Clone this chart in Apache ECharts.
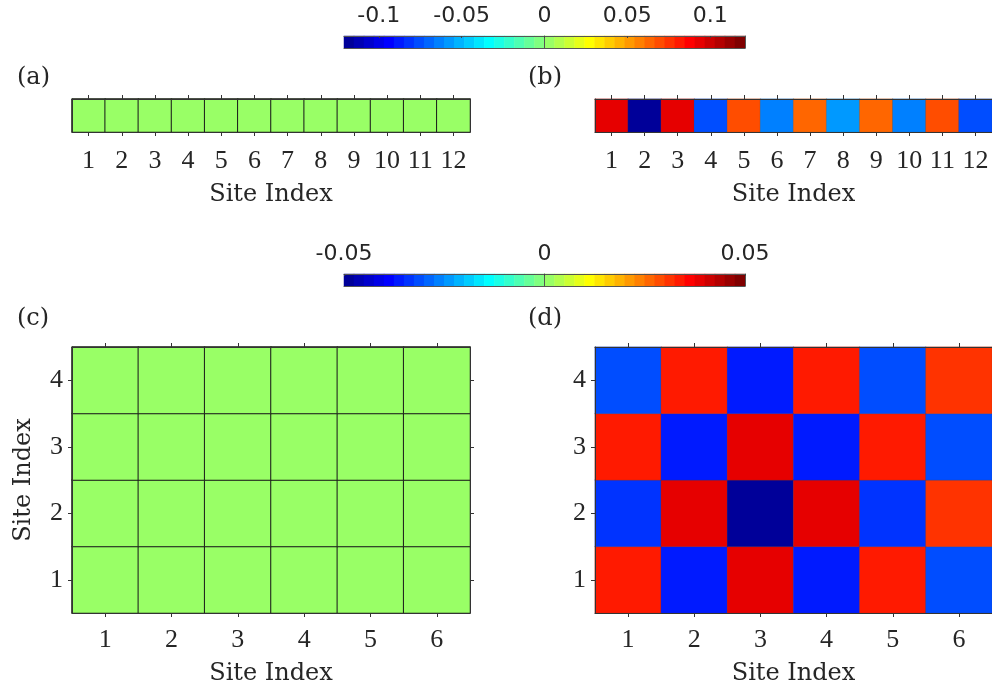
<!DOCTYPE html>
<html>
<head>
<meta charset="utf-8">
<script src="https://cdn.jsdelivr.net/npm/echarts@6/dist/echarts.min.js"></script>
<style>
html,body{margin:0;padding:0;background:#fff;}
#chart{width:992px;height:689px;}
</style>
</head>
<body>
<div id="chart"></div>
<script>
// ---------------- data ----------------
const sites12 = ['1','2','3','4','5','6','7','8','9','10','11','12'];
const sites6 = ['1','2','3','4','5','6'];
const sites4 = ['1','2','3','4'];

// (a) 1D chain, all zero
const valuesA = [0,0,0,0,0,0,0,0,0,0,0,0];
// (b) 1D chain correlation
const valuesB = [0.094,-0.12,0.094,-0.075,0.07,-0.063,0.063,-0.058,0.063,-0.063,0.07,-0.075];
// (c) 2D lattice, all zero (rows y=1..4, columns x=1..6)
const valuesC_row1 = [0,0,0,0,0,0];
const valuesC_row2 = [0,0,0,0,0,0];
const valuesC_row3 = [0,0,0,0,0,0];
const valuesC_row4 = [0,0,0,0,0,0];
// (d) 2D lattice correlation (rows y=1..4)
const valuesD_row1 = [0.034,-0.036,0.039,-0.036,0.034,-0.031];
const valuesD_row2 = [-0.034,0.039,-0.05,0.039,-0.034,0.031];
const valuesD_row3 = [0.034,-0.036,0.039,-0.036,0.034,-0.031];
const valuesD_row4 = [-0.031,0.034,-0.036,0.034,-0.031,0.031];

// colour limits and colourbar ticks
const climTop = [-0.121, 0.121];
const climBottom = [-0.05, 0.05];
const cbTicksTop = [-0.1,-0.05,0,0.05,0.1];
const cbTicksBottom = [-0.05,0,0.05];
const nColors = 40;

// ---------------- helpers ----------------
function jetMap(m){
  const n = Math.ceil(m/4);
  const u = [];
  for(let i=1;i<=n;i++) u.push(i/n);
  for(let i=1;i<=n-1;i++) u.push(1);
  for(let i=n;i>=1;i--) u.push(i/n);
  const g0 = Math.ceil(n/2) - (m%4===1?1:0);
  const J = [];
  for(let i=0;i<m;i++) J.push([0,0,0]);
  for(let j=0;j<u.length;j++){
    const gi = g0 + j + 1, ri = gi + n, bi = gi - n;
    if(gi>=1 && gi<=m) J[gi-1][1] = u[j];
    if(ri>=1 && ri<=m) J[ri-1][0] = u[j];
    if(bi>=1 && bi<=m) J[bi-1][2] = u[j];
  }
  return J.map(c => 'rgb(' + c.map(v => Math.round(v*255)).join(',') + ')');
}
const jet = jetMap(nColors);

function pieces(clim){
  const d = (clim[1]-clim[0])/nColors;
  const p = [];
  for(let k=0;k<nColors;k++){
    const pc = {color: jet[k]};
    if(k>0) pc.gte = clim[0] + k*d;
    if(k<nColors-1) pc.lt = clim[0] + (k+1)*d;
    p.push(pc);
  }
  return p;
}
function cbCells(clim){
  const d = (clim[1]-clim[0])/nColors;
  const out = [];
  for(let k=0;k<nColors;k++) out.push([k,0,clim[0] + (k+0.5)*d]);
  return out;
}
function cbCats(){ const c=[]; for(let k=0;k<nColors;k++) c.push(String(k)); return c; }

function grid1D(vals){ return vals.map((v,i)=>[i,0,v]); }
function grid2D(rows){
  const out=[];
  rows.forEach((r,j)=>r.forEach((v,i)=>out.push([i,j,v])));
  return out;
}

// ---------------- styling ----------------
const TXT = '#262626';
const LINE = '#333333';
const SERIF = 'DejaVu Serif';
const TICKFONT = 'Liberation Serif';
const FS = 24;
const TFS = 26;

const grids = [
  {left:72, top:99, width:398, height:33},
  {left:595, top:99, width:398, height:33},
  {left:72, top:347, width:398, height:266},
  {left:595, top:347, width:398, height:266},
  {left:344, top:36, width:401, height:12},
  {left:344, top:274, width:401, height:12}
];

const xAxes = [], yAxes = [];
function panelAxes(g, xcats, ycats, showY){
  const oneD = !showY;
  xAxes.push({
    type:'category', gridIndex:g, data:xcats, position:'bottom', z:10,
    axisLine:{show:true, lineStyle:{color:LINE, width:1}},
    axisTick:{show:true, alignWithLabel:true, interval:0, length:4, lineStyle:{color:LINE}},
    axisLabel:{show:true, interval:0, margin: oneD ? 16 : 14, color:TXT, fontFamily:TICKFONT, fontSize:TFS},
    name:'Site Index', nameLocation:'middle', nameGap: oneD ? 51 : 49,
    nameTextStyle:{color:TXT, fontFamily:SERIF, fontSize:FS}
  });
  xAxes.push({
    type:'category', gridIndex:g, data:xcats, position:'top', z:10,
    axisLine:{show:true, lineStyle:{color:LINE, width:1}},
    axisTick:{show:true, alignWithLabel:true, interval:0, length:4, lineStyle:{color:LINE}},
    axisLabel:{show:false, interval:0}
  });
  const yl = {
    type:'category', gridIndex:g, data:ycats, position:'left', z:10,
    axisLine:{show:true, lineStyle:{color:LINE, width:1}},
    axisTick:{show:showY, alignWithLabel:true, interval:0, length:4, lineStyle:{color:LINE}},
    axisLabel:{show:showY, interval:0, margin:9, color:TXT, fontFamily:TICKFONT, fontSize:TFS}
  };
  if(showY && g===2){
    yl.name = 'Site Index'; yl.nameLocation='middle'; yl.nameGap=36;
    yl.nameTextStyle = {color:TXT, fontFamily:SERIF, fontSize:FS};
  }
  yAxes.push(yl);
  yAxes.push({
    type:'category', gridIndex:g, data:ycats, position:'right', z:10,
    axisLine:{show:true, lineStyle:{color:LINE, width:1}},
    axisTick:{show:showY, alignWithLabel:true, interval:0, length:4, lineStyle:{color:LINE}},
    axisLabel:{show:false, interval:0}
  });
}
panelAxes(0, sites12, [''], false);
panelAxes(1, sites12, [''], false);
panelAxes(2, sites6, sites4, true);
panelAxes(3, sites6, sites4, true);

function cbAxes(g, clim, ticks){
  xAxes.push({
    type:'category', gridIndex:g, data:cbCats(), position:'bottom', z:10,
    axisLine:{show:true, lineStyle:{color:'#555', width:1}},
    axisTick:{show:false}, axisLabel:{show:false}
  });
  xAxes.push({
    type:'value', gridIndex:g, min:clim[0], max:clim[1], position:'top', z:10,
    splitLine:{show:false},
    axisLine:{show:true, lineStyle:{color:'#555', width:1}},
    axisTick:{show:true, inside:true, length:2, customValues:ticks, lineStyle:{color:'#444'}},
    axisLabel:{show:true, customValues:ticks, margin:9, color:TXT, fontFamily:'DejaVu Sans', fontSize:22,
      formatter:v=>String(v)}
  });
  yAxes.push({type:'category', gridIndex:g, data:[''], position:'left', z:10,
    axisLine:{show:true, lineStyle:{color:'#555', width:1}}, axisTick:{show:false}, axisLabel:{show:false}});
  yAxes.push({type:'category', gridIndex:g, data:[''], position:'right', z:10,
    axisLine:{show:true, lineStyle:{color:'#555', width:1}}, axisTick:{show:false}, axisLabel:{show:false}});
}
cbAxes(4, climTop, cbTicksTop);
cbAxes(5, climBottom, cbTicksBottom);

const edgeDark = {borderColor:'#1a1a1a', borderWidth:1};
const edgeLight = {borderColor:'rgba(70,70,70,0.22)', borderWidth:1};

const series = [
  {type:'heatmap', xAxisIndex:0, yAxisIndex:0, data:grid1D(valuesA), itemStyle:edgeDark, emphasis:{disabled:true}},
  {type:'heatmap', xAxisIndex:2, yAxisIndex:2, data:grid1D(valuesB), itemStyle:edgeLight, emphasis:{disabled:true}},
  {type:'heatmap', xAxisIndex:4, yAxisIndex:4, data:grid2D([valuesC_row1,valuesC_row2,valuesC_row3,valuesC_row4]), itemStyle:edgeDark, emphasis:{disabled:true}},
  {type:'heatmap', xAxisIndex:6, yAxisIndex:6, data:grid2D([valuesD_row1,valuesD_row2,valuesD_row3,valuesD_row4]), itemStyle:edgeLight, emphasis:{disabled:true}},
  {type:'heatmap', xAxisIndex:8, yAxisIndex:8, data:cbCells(climTop), emphasis:{disabled:true}},
  {type:'heatmap', xAxisIndex:10, yAxisIndex:10, data:cbCells(climBottom), emphasis:{disabled:true}}
];

const titleStyle = {fontFamily:SERIF, fontSize:FS, fontWeight:'normal', color:TXT};
const option = {
  animation:false,
  backgroundColor:'#ffffff',
  title:[
    {text:'(a)', left:17, top:66, padding:0, textStyle:titleStyle},
    {text:'(b)', left:528, top:66, padding:0, textStyle:titleStyle},
    {text:'(c)', left:17, top:307, padding:0, textStyle:titleStyle},
    {text:'(d)', left:528, top:307, padding:0, textStyle:titleStyle}
  ],
  grid:grids,
  xAxis:xAxes,
  yAxis:yAxes,
  visualMap:[
    {type:'piecewise', show:false, seriesIndex:[0,1,4], dimension:2, pieces:pieces(climTop)},
    {type:'piecewise', show:false, seriesIndex:[2,3,5], dimension:2, pieces:pieces(climBottom)}
  ],
  series:series
};
const chart = echarts.init(document.getElementById('chart'), null, {renderer:'canvas'});
chart.setOption(option);
</script>
</body>
</html>
